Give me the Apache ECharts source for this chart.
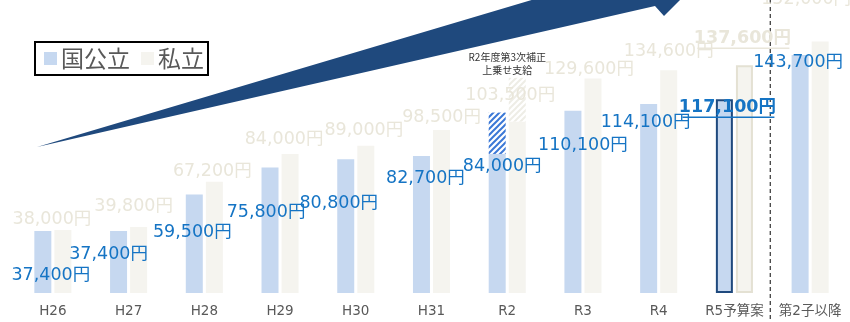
<!DOCTYPE html>
<html>
<head>
<meta charset="utf-8">
<script src="https://cdn.jsdelivr.net/npm/echarts@6/dist/echarts.min.js"></script>
<style>
  html, body { margin: 0; padding: 0; background: #fff; }
  #main { width: 850px; height: 322px; }
</style>
</head>
<body>
<div id="main"></div>
<script>
// data (yen / month)
const categories = ['H26', 'H27', 'H28', 'H29', 'H30', 'H31', 'R2', 'R3', 'R4', 'R5予算案', '第2子以降'];
const publicValues = [37400, 37400, 59500, 75800, 80800, 82700, 84000, 110100, 114100, 117100, 143700];
const privateValues = [38000, 39800, 67200, 84000, 89000, 98500, 103500, 129600, 134600, 137600, 152000];
// R2 3rd supplementary budget top-up (hatched part)
const publicTopUp = ['-', '-', '-', '-', '-', '-', 25000, '-', '-', '-', '-'];
const privateTopUp = ['-', '-', '-', '-', '-', '-', 26500, '-', '-', '-', '-'];

// label nudges (px) so the labels sit where they do in the picture
const publicLabelOffset = [[8, 53], [-10, 32], [-2, 47], [-4, 54], [-7, 53], [4, 31], [5, 22], [10, 44], [-3, 27], [3, 17], [-2, 16]];
const privateLabelOffset = [[-11, -2], [-5, -12], [-2, -1], [-6, -5], [-2, -6], [0, -3], [-7, -17], [-4, 0], [0, -10], [-2, -18], [-14, -33]];

const FONT = '"Noto Sans CJK JP", "Noto Sans", sans-serif';
const NUM_FONT = '"DejaVu Sans", "Noto Sans CJK JP", sans-serif';
const BLUE = '#c6d8f0';
const BEIGE = '#f5f4ef';
const BLUE_TXT = '#1574c4';
const BEIGE_TXT = '#e9e6da';
const NAVY = '#1f497d';
const HI = 9; // R5予算案

function hatch(color) {
    const c = document.createElement('canvas');
    c.width = c.height = 6;
    const g = c.getContext('2d');
    g.fillStyle = '#fff';
    g.fillRect(0, 0, 6, 6);
    g.strokeStyle = color;
    g.lineWidth = 2;
    g.beginPath();
    g.moveTo(0, 6); g.lineTo(6, 0);
    g.moveTo(-3, 3); g.lineTo(3, -3);
    g.moveTo(3, 9); g.lineTo(9, 3);
    g.stroke();
    return c;
}

const yen = v => Number(v).toLocaleString('en-US') + '円';

const chart = echarts.init(document.getElementById('main'));

const option = {
    animation: false,
    textStyle: { fontFamily: FONT },
    legend: {
        data: ['国公立', '私立'],
        left: 35,
        top: 42,
        icon: 'rect',
        itemWidth: 13,
        itemHeight: 13,
        itemGap: 11,
        padding: [5, 4, 5, 9],
        borderColor: '#000',
        borderWidth: 2,
        textStyle: { fontSize: 23, color: '#595959', fontFamily: FONT, padding: [0, 0, 0, -1] }
    },
    grid: { left: 15, right: 2, top: 0, bottom: 29, containLabel: false },
    xAxis: {
        type: 'category',
        data: categories,
        axisLine: { show: false },
        axisTick: { show: false },
        axisLabel: { margin: 12, fontSize: 13.5, color: '#595959', fontFamily: NUM_FONT, interval: 0 }
    },
    yAxis: { type: 'value', min: 0, max: 177000, show: false },
    series: [
        {
            name: '国公立',
            type: 'bar',
            stack: 'pub',
            barWidth: 17,
            barGap: '18%',
            itemStyle: { color: BLUE },
            label: {
                show: true,
                position: 'top',
                distance: 0,
                lineHeight: 18,
                fontSize: 17.5,
                color: BLUE_TXT,
                fontFamily: NUM_FONT,
                formatter: p => yen(p.value)
            },
            data: publicValues.map((v, i) => ({
                value: v,
                label: i === HI ? { offset: publicLabelOffset[i], fontWeight: 'bold' } : { offset: publicLabelOffset[i] },
                itemStyle: i === HI ? { borderColor: NAVY, borderWidth: 2 } : undefined
            }))
        },
        {
            name: '私立',
            type: 'bar',
            stack: 'pri',
            barWidth: 17,
            barGap: '18%',
            itemStyle: { color: BEIGE },
            label: {
                show: true,
                position: 'top',
                distance: 0,
                lineHeight: 18,
                fontSize: 17.5,
                color: BEIGE_TXT,
                fontFamily: NUM_FONT,
                formatter: p => yen(p.value)
            },
            data: privateValues.map((v, i) => ({
                value: v,
                label: i === HI ? { offset: privateLabelOffset[i], fontWeight: 'bold' } : { offset: privateLabelOffset[i] },
                itemStyle: i === HI ? { borderColor: '#e4e1d3', borderWidth: 2 } : undefined
            }))
        },
        {
            name: '国公立上乗せ',
            type: 'bar',
            stack: 'pub',
            barWidth: 17,
            z: 1,
            itemStyle: { color: { image: hatch('#3b78d6'), repeat: 'repeat' } },
            data: publicTopUp
        },
        {
            name: '私立上乗せ',
            type: 'bar',
            stack: 'pri',
            barWidth: 17,
            z: 1,
            itemStyle: { color: { image: hatch('#eeede6'), repeat: 'repeat' } },
            data: privateTopUp
        }
    ]
};
chart.setOption(option);

// decorations placed from the chart's own scales
const px = (i, v) => chart.convertToPixel({ xAxisIndex: 0, yAxisIndex: 0 }, [i, v]);
const pubTop = px(HI, publicValues[HI]);
const priTop = px(HI, privateValues[HI]);
const pubUx = pubTop[0] - 10 + publicLabelOffset[HI][0];
const pubUy = pubTop[1] + publicLabelOffset[HI][1] + 1;
const priUx = priTop[0] + 10 + privateLabelOffset[HI][0];
const priUy = priTop[1] + privateLabelOffset[HI][1] + 1;
const sepX = (px(9, 0)[0] + px(10, 0)[0]) / 2 - 2;
const r2x = px(6, 0)[0];

chart.setOption({
    graphic: [
        {
            type: 'polygon',
            z: 0,
            shape: { points: [[37, 147], [655, 6], [664, 16], [702, -22], [648, -50], [646, -34]] },
            style: { fill: NAVY }
        },
        {
            type: 'line',
            shape: { x1: sepX, y1: 0, x2: sepX, y2: 322 },
            style: { stroke: '#333', lineWidth: 1.2, lineDash: [4, 3] }
        },
        {
            type: 'line',
            z: 10,
            shape: { x1: pubUx - 45, y1: pubUy, x2: pubUx + 47, y2: pubUy },
            style: { stroke: BLUE_TXT, lineWidth: 1.5 }
        },
        {
            type: 'line',
            z: 10,
            shape: { x1: priUx - 45, y1: priUy, x2: priUx + 47, y2: priUy },
            style: { stroke: BEIGE_TXT, lineWidth: 1.5 }
        },
        {
            type: 'text',
            x: r2x,
            y: 51,
            style: {
                text: 'R2年度第3次補正\n上乗せ支給',
                textAlign: 'center',
                fontSize: 10,
                lineHeight: 13,
                fill: '#333',
                fontFamily: FONT
            }
        }
    ]
});
</script>
</body>
</html>
